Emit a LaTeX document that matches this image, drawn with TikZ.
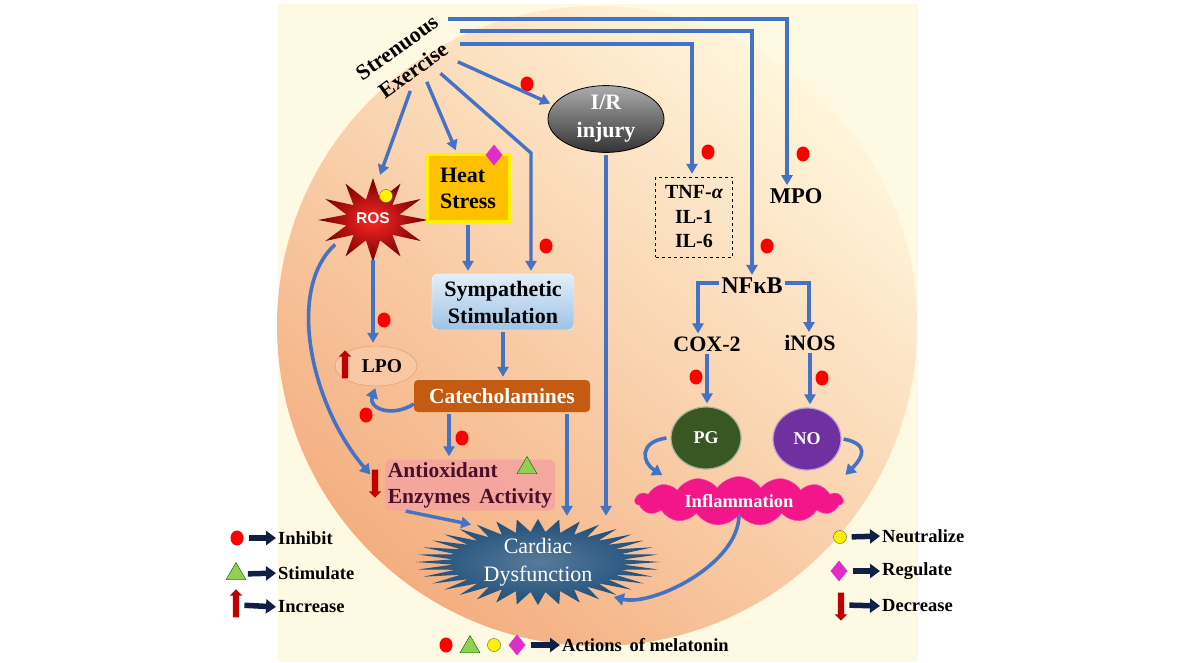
\documentclass[tikz,border=0pt]{standalone}
\usepackage{fontspec}
\setmainfont{Liberation Serif}
\setsansfont{Liberation Sans}
\usepackage{tikz}
\usetikzlibrary{arrows.meta}
\usetikzlibrary{positioning}
\usetikzlibrary{shapes.geometric}
\usetikzlibrary{shapes.symbols}
\usetikzlibrary{shapes.arrows}

\definecolor{bgcream}{HTML}{FEF9E3}
\definecolor{circlight}{HTML}{FFF6DC}
\definecolor{circmid}{HTML}{F9C8A0}
\definecolor{circdark}{HTML}{F4AE80}
\definecolor{arrowblue}{HTML}{4472C4}
\definecolor{dotred}{HTML}{FF0000}
\definecolor{heatgold}{HTML}{FFC000}
\definecolor{symtop}{HTML}{E3EEF9}
\definecolor{symbot}{HTML}{9DC3E6}
\definecolor{catbrown}{HTML}{C55A11}
\definecolor{cardblue}{HTML}{1F4E79}
\definecolor{pggreen}{HTML}{385723}
\definecolor{nopurple}{HTML}{7030A0}
\definecolor{inflpink}{HTML}{F2168A}
\definecolor{antipink}{HTML}{F4A3A0}
\definecolor{antitext}{HTML}{4B0F2A}
\definecolor{lpofill}{HTML}{F8C7A4}
\definecolor{lpoedge}{HTML}{E8955A}
\definecolor{legnavy}{HTML}{101F45}
\definecolor{dmdmag}{HTML}{E02DC8}
\definecolor{trigreen}{HTML}{92D050}
\definecolor{arrowred}{HTML}{C00000}

\tikzstyle{every node}+=[inner sep=0pt]
\tikzstyle{line} = [draw=arrowblue, line width=3.4pt, -{Triangle[length=10pt,width=11pt]}, shorten >=3pt, shorten <=2pt]
\tikzstyle{curl} = [draw=arrowblue, line width=3.6pt, -{Triangle[length=10pt,width=12pt]}, shorten >=2pt]
\tikzstyle{legarr} = [draw=legnavy, line width=5.5pt, -{Triangle[length=10pt,width=14pt]}, shorten <=5pt, shorten >=2pt]
\tikzstyle{txt} = [font=\bfseries\fontsize{22}{27}\selectfont]
\tikzstyle{legtxt} = [anchor=west, font=\bfseries\fontsize{18.5}{20}\selectfont]
\tikzstyle{inhib} = [ellipse, fill=dotred, minimum width=13pt, minimum height=15pt]
\tikzstyle{neut} = [circle, fill=yellow, draw=olive!60!black, thin, minimum size=13pt]
\tikzstyle{regul} = [diamond, aspect=0.6, fill=dmdmag, minimum width=17pt, minimum height=21pt]
\tikzstyle{stim} = [regular polygon, regular polygon sides=3, fill=trigreen, draw=green!35!black, thin, minimum size=23pt]
\tikzstyle{uparr} = [single arrow, shape border rotate=90, fill=arrowred, inner sep=3pt, single arrow head extend=3pt, minimum height=28pt]
\tikzstyle{downarr} = [single arrow, shape border rotate=270, fill=arrowred, inner sep=3pt, single arrow head extend=3pt, minimum height=28pt]

\begin{document}
\begin{tikzpicture}[x=1pt, y=-1pt]
  \useasboundingbox (0,0) rectangle (1177,662);
  % background
  \fill[bgcream] (278,4) rectangle (918,662);
  \shade[top color=circlight, middle color=circmid, bottom color=circdark, shading angle=-40] (597,326) circle (320);
  % bursts
  \shade[inner color=red!85!white, outer color=red!45!black] (428,220)
    \foreach \i in {1,...,23} {-- ({373+(1-0.5*mod(\i,2))*55*cos(15*\i)}, {220+(1-0.5*mod(\i,2))*42*sin(15*\i)})} -- cycle;
  \shade[inner color=cardblue!75!white, outer color=cardblue] (660,562)
    \foreach \i in {1,...,71} {-- ({538+(1-0.3*mod(\i,2))*122*cos(5*\i)}, {562+(1-0.3*mod(\i,2))*43*sin(5*\i)})} -- cycle;

  % Place nodes
  \node [rotate=35.5, align=center, font=\bfseries\fontsize{22}{28}\selectfont] (ex) at (405,59) {Strenuous\\Exercise};
  \node [ellipse, draw=black, thick, top color=gray!65, bottom color=black!80, minimum width=116pt, minimum height=61pt, text=white, align=center, font=\bfseries\fontsize{22}{28}\selectfont] (ir) at (606,119) {I/R\\injury};
  \node [font=\bfseries\fontsize{22.5}{27}\selectfont] (mpo) at (796,196) {MPO};
  \node [draw, dashed, thin, minimum width=77pt, minimum height=80pt, align=center, font=\bfseries\fontsize{20}{24.5}\selectfont] (tnf) at (694,217) {TNF-{\itshape α}\\IL-1\\IL-6};
  \node [font=\bfseries\fontsize{24}{28}\selectfont] (nfkb) at (752,286) {NFκB};
  \node [txt] (cox) at (707,344) {COX-2};
  \node [txt] (inos) at (810,343) {iNOS};
  \node [ellipse, fill=pggreen, draw=pggreen!45!white, line width=1.2pt, minimum width=70pt, minimum height=62pt, text=white, font=\bfseries\fontsize{18}{20}\selectfont] (pg) at (706,438) {PG};
  \node [ellipse, fill=nopurple, draw=nopurple!45!white, line width=1.2pt, minimum width=68pt, minimum height=62pt, text=white, font=\bfseries\fontsize{18}{20}\selectfont] (no) at (807,439) {NO};
  \node [cloud, cloud puffs=15, cloud puff arc=110, aspect=5.5, inner xsep=6pt, inner ysep=2pt, fill=inflpink, draw=inflpink!70!white, minimum width=208pt, minimum height=40pt, text=white, font=\bfseries\fontsize{18.5}{20}\selectfont] (infl) at (739,501) {Inflammation};
  \node [ellipse, minimum width=100pt, minimum height=80pt, text=white, font=\sffamily\bfseries\fontsize{15.5}{17}\selectfont] (ros) at (373,218) {ROS};
  \node [rectangle, fill=heatgold, draw=yellow, line width=3pt, minimum width=82pt, minimum height=67pt, align=left, font=\bfseries\fontsize{22}{26}\selectfont] (heat) at (468,188) {Heat\\Stress};
  \node [rectangle, rounded corners=6pt, top color=symtop, bottom color=symbot, draw=white, minimum width=142pt, minimum height=56pt, align=center, txt] (symp) at (503,302) {Sympathetic\\Stimulation};
  \node [ellipse, fill=lpofill, draw=lpoedge, minimum width=82pt, minimum height=40pt, font=\bfseries\fontsize{19.5}{22}\selectfont] (lpo) at (376,366) {\hspace*{12pt}LPO};
  \node [rectangle, rounded corners=4pt, fill=catbrown, minimum width=176pt, minimum height=32pt, text=white, font=\bfseries\fontsize{21.5}{25}\selectfont] (cat) at (502,396) {Catecholamines};
  \node [rectangle, rounded corners=6pt, fill=antipink, fill opacity=0.85, text opacity=1, minimum width=170pt, minimum height=51pt, text=antitext, align=left, font=\bfseries\fontsize{21.5}{26}\selectfont] (antiox) at (470,485) {Antioxidant\\Enzymes\, Activity};
  \node [ellipse, minimum width=245pt, minimum height=86pt, text=white, align=center, font=\fontsize{22}{28}\selectfont] (card) at (538,562) {Cardiac\\Dysfunction};

  % markers
  \node [inhib] (d1) at (527,84) {};
  \node [inhib] (d2) at (708,152) {};
  \node [inhib] (d3) at (803,154) {};
  \node [inhib] (d4) at (546,246) {};
  \node [inhib] (d5) at (767,246) {};
  \node [inhib] (d6) at (384,320) {};
  \node [inhib] (d7) at (696,377) {};
  \node [inhib] (d8) at (822,378) {};
  \node [inhib] (d9) at (366,415) {};
  \node [inhib] (d10) at (462,438) {};
  \node [neut] (ycir) at (386,196) {};
  \node [regul] (hdmd) at (494,155) {};
  \node [stim] (atri) at (527,468) {};
  \node [uparr] (lpoup) at (345,366) {};
  \node [downarr] (antdown) at (375,482) {};

  % legend
  \node [inhib] (ldot) at (237,538) {};
  \node [stim] (ltri) at (236,574) {};
  \node [uparr] (lup) at (236,605) {};
  \node [legtxt] (linh) at (278,538) {Inhibit};
  \node [legtxt] (lsti) at (278,573) {Stimulate};
  \node [legtxt] (linc) at (278,607) {Increase};
  \node [neut] (rcir) at (840,537) {};
  \node [regul] (rdmd) at (839,571) {};
  \node [downarr] (rdown) at (841,605) {};
  \node [legtxt] (rneu) at (882,536) {Neutralize};
  \node [legtxt] (rreg) at (882,571) {Regulate};
  \node [legtxt] (rdec) at (882,606) {Decrease};
  \node [inhib] (bdot) at (446,645) {};
  \node [stim] (btri) at (470,647) {};
  \node [neut] (bcir) at (494,645) {};
  \node [regul] (bdmd) at (517,645) {};
  \node [legtxt] (bact) at (562,645) {Actions\, of melatonin};

  % Draw edges
  \path [line] ([xshift=41pt,yshift=40pt]ex.center) -| ([xshift=-9pt]mpo.north);
  \path [line] ([xshift=53pt,yshift=28pt]ex.center) -| (nfkb.north);
  \path [line] ([xshift=53pt,yshift=15pt]ex.center) -| ([xshift=-2pt]tnf.north);
  \path [line] ([xshift=51pt,yshift=-2pt]ex.center) -- (ir.165);
  \path [line] ([xshift=34pt,yshift=-13pt]ex.center) -- ([xshift=28pt]symp.north |- heat.north) -- ([xshift=28pt]symp.north);
  \path [line] ([xshift=21pt,yshift=-21pt]ex.center) -- ([xshift=-11pt]heat.north);
  \path [line] ([xshift=6pt,yshift=-30pt]ex.center) -- ([xshift=6pt]ros.north);
  \path [line] (heat.south) -- (heat.south |- symp.north);
  \path [line] (symp.south) -- (symp.south |- cat.north);
  \path [line] (ros.south) -- (ros.south |- lpo.north);
  \path [curl] ([yshift=-8pt]cat.west) .. controls +(-22,14) and +(-8,22) .. (lpo.south);
  \path [line] ([xshift=-53pt]cat.south) -- ([xshift=-53pt]cat.south |- antiox.north);
  \path [line] ([xshift=65pt]cat.south) -- ([xshift=65pt]cat.south |- card.north);
  \path [line] (ir.south) -- (ir.south |- card.north);
  \path [curl] (ros.215) .. controls +(-50,45) and +(-60,-70) .. ([yshift=6pt]antdown.west);
  \path [line] ([xshift=19pt]antiox.south west) -- (card.150);
  \path [line] ([yshift=3pt]nfkb.west) -| ([xshift=-9pt]cox.north);
  \path [line] ([yshift=3pt]nfkb.east) -| ([xshift=-1pt]inos.north);
  \path [line] (cox.south) -- (cox.south |- pg.north);
  \path [line] (inos.south) -- (inos.south |- no.north);
  \path [curl] ([xshift=-4pt]pg.west) .. controls +(-28,4) and +(-22,-14) .. ([xshift=-75pt]infl.north);
  \path [curl] ([xshift=2pt]no.east) .. controls +(25,5) and +(20,-20) .. ([xshift=105pt]infl.north);
  \path [curl] (infl.south) .. controls +(0,50) and +(40,10) .. (card.-25);
  \path [legarr] (ldot.east) -- (linh.west);
  \path [legarr] (ltri.east) -- (lsti.west);
  \path [legarr] (lup.east) -- (linc.west);
  \path [legarr] (rcir.east) -- (rneu.west);
  \path [legarr] (rdmd.east) -- (rreg.west);
  \path [legarr] (rdown.east) -- (rdec.west);
  \path [legarr] (bdmd.east) -- (bact.west);
\end{tikzpicture}
\end{document}
